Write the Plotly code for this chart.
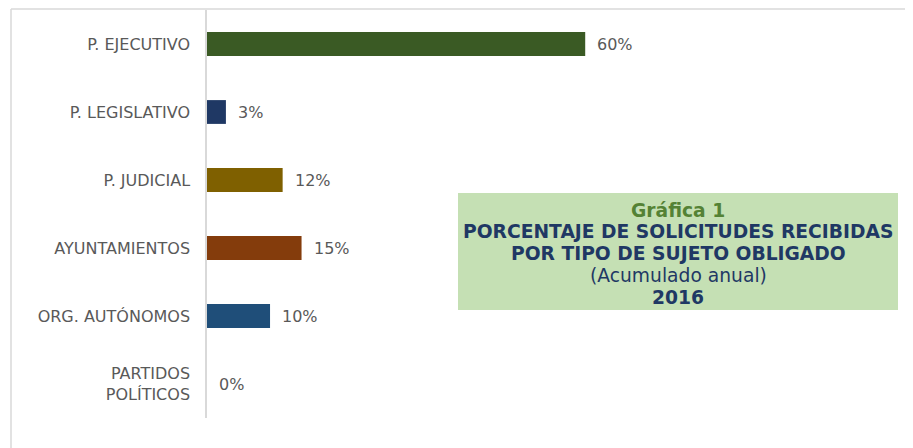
import plotly.graph_objects as go

categories = ['P. EJECUTIVO', 'P. LEGISLATIVO', 'P. JUDICIAL', 'AYUNTAMIENTOS',
              'ORG. AUTÓNOMOS', 'PARTIDOS<br>POLÍTICOS']
values = [60, 3, 12, 15, 10, 0]
colors = ['#3A5A24', '#1F3864', '#7F6000', '#843C0C', '#1F4E79', '#A5A5A5']
value_labels = [f'{v}%' for v in values]

# page body has an 8px margin, so the figure is laid out 8px smaller
OFF = 8
W, H = 913 - OFF, 448 - OFF
L, R, T, B = 207 - OFF, 0, 10 - OFF, 30
plot_w = W - L - R
plot_h = H - T - B


def px_x(p):
    # reference pixel -> paper coordinate
    return (p - OFF - L) / plot_w


def px_y(p):
    return (H - B - (p - OFF)) / plot_h


fig = go.Figure()
fig.add_trace(go.Bar(
    x=values,
    y=categories,
    orientation='h',
    marker=dict(color=colors, line=dict(width=0)),
    hoverinfo='skip',
))

# value labels to the right of each bar
for cat, v, lab in zip(categories, values, value_labels):
    fig.add_annotation(
        x=v, y=cat, text=lab, showarrow=False,
        xanchor='left', xshift=10,
        font=dict(family='DejaVu Sans', size=16, color='#595959'),
    )

# title box
fig.add_shape(
    type='rect', xref='paper', yref='paper',
    x0=px_x(458), x1=px_x(898), y0=px_y(310), y1=px_y(193),
    fillcolor='#C5E0B4', line=dict(width=0), layer='below',
)
title_lines = [
    ('<b>Gráfica 1</b>', '#548235', 210),
    ('<b>PORCENTAJE DE SOLICITUDES RECIBIDAS</b>', '#1F3864', 231),
    ('<b>POR TIPO DE SUJETO OBLIGADO</b>', '#1F3864', 253),
    ('(Acumulado anual)', '#1F3864', 275),
    ('<b>2016</b>', '#1F3864', 297),
]
for txt, col, yy in title_lines:
    fig.add_annotation(
        xref='paper', yref='paper', x=px_x(678), y=px_y(yy),
        text=txt, showarrow=False, xanchor='center', yanchor='middle',
        font=dict(family='DejaVu Sans', size=18.7, color=col),
    )

# outer frame (only top and left edges are visible)
fig.add_shape(type='line', xref='paper', yref='paper',
              x0=px_x(11), x1=px_x(913), y0=px_y(9), y1=px_y(9),
              line=dict(color='#D9D9D9', width=1.5))
fig.add_shape(type='line', xref='paper', yref='paper',
              x0=px_x(11), x1=px_x(11), y0=px_y(9), y1=px_y(448),
              line=dict(color='#D9D9D9', width=1.5))

fig.update_layout(
    width=W, height=H,
    margin=dict(l=L, r=R, t=T, b=B),
    plot_bgcolor='white',
    paper_bgcolor='white',
    bargap=0.65,
    showlegend=False,
    font=dict(family='DejaVu Sans', size=16, color='#595959'),
    xaxis=dict(range=[0, 112], visible=False, fixedrange=True),
    yaxis=dict(
        autorange='reversed',
        showline=True, linecolor='#D9D9D9', linewidth=1.5,
        showgrid=False, ticks='', ticklabelstandoff=12,
        tickfont=dict(family='DejaVu Sans', size=16, color='#595959'),
    ),
)

fig.write_html('out.html')
